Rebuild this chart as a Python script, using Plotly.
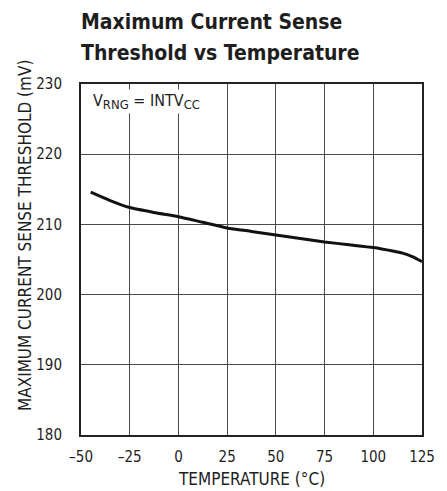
import plotly.graph_objects as go

temp = [-45, -35, -25, -12.5, 0, 12.5, 25, 37.5, 50, 62.5, 75, 87.5, 100, 110, 115, 120, 125]
thresh = [214.6, 213.4, 212.4, 211.7, 211.1, 210.3, 209.5, 209.0, 208.5, 208.0, 207.5, 207.1, 206.7, 206.2, 205.9, 205.4, 204.7]

xticks = [-50, -25, 0, 25, 50, 75, 100, 125]
xticklabels = ["\u201350", "\u201325", "0", "25", "50", "75", "100", "125"]
yticks = [180, 190, 200, 210, 220, 230]

FONT = "DejaVu Sans Condensed, Liberation Sans Narrow, Arial Narrow, sans-serif"
INK = "#1e1e1e"

fig = go.Figure()
fig.add_trace(go.Scatter(x=temp, y=thresh, mode="lines",
                         line=dict(color="#111111", width=3, shape="spline", smoothing=0.6),
                         hoverinfo="skip", showlegend=False))

fig.update_layout(
    width=447, height=491,
    margin=dict(l=81, r=15, t=84, b=56),
    paper_bgcolor="white", plot_bgcolor="white",
    font=dict(family=FONT, color=INK),
    showlegend=False,
)
fig.update_xaxes(range=[-50, 125], tickvals=xticks, ticktext=xticklabels,
                 showgrid=True, gridcolor="#4a4a4a", gridwidth=1,
                 showline=True, linecolor="#222222", linewidth=2, mirror=True,
                 ticks="", ticklabelstandoff=7, tickfont=dict(size=15, family=FONT, color=INK),
                 zeroline=False)
fig.update_yaxes(range=[180, 230], tickvals=yticks,
                 showgrid=True, gridcolor="#4a4a4a", gridwidth=1,
                 showline=True, linecolor="#222222", linewidth=2, mirror=True,
                 ticks="", ticklabelstandoff=14, tickfont=dict(size=15, family=FONT, color=INK),
                 zeroline=False)

# axis titles
fig.add_annotation(text="TEMPERATURE (\u00b0C)", xref="paper", yref="paper",
                   x=0.5, y=0, yshift=-44, xanchor="center", yanchor="middle",
                   showarrow=False, font=dict(size=17, family=FONT, color=INK))
fig.add_annotation(text="MAXIMUM CURRENT SENSE THRESHOLD (mV)", xref="paper", yref="paper",
                   x=0, xshift=-56, y=0.567, textangle=-90, xanchor="center", yanchor="middle",
                   showarrow=False, font=dict(size=17, family=FONT, color=INK))

fig.add_annotation(text="<b>Maximum Current Sense</b>",
                   xref="paper", yref="paper", x=-0.007, y=1.0, yshift=62,
                   xanchor="left", yanchor="middle", align="left", showarrow=False,
                   font=dict(size=21, family=FONT, color=INK))
fig.add_annotation(text="<b>Threshold vs Temperature</b>",
                   xref="paper", yref="paper", x=-0.007, y=1.0, yshift=31,
                   xanchor="left", yanchor="middle", align="left", showarrow=False,
                   font=dict(size=21, family=FONT, color=INK))
fig.add_annotation(text="V<sub><span style=\"font-size:13px\">RNG</span></sub> = INTV<sub><span style=\"font-size:13px\">CC</span></sub>",
                   xref="paper", yref="paper", x=0.028, y=0.985,
                   xanchor="left", yanchor="top", showarrow=False, bgcolor="white",
                   font=dict(size=16, family=FONT, color=INK))

fig.write_html("out.html")
